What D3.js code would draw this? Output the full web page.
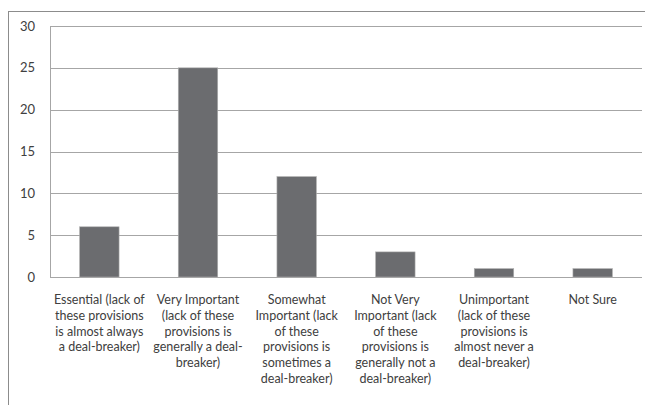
<!DOCTYPE html>
<html>
<head>
<meta charset="utf-8">
<script src="https://cdn.jsdelivr.net/npm/d3@7"></script>
<style>
  body { margin: 0; background: #fff; }
  svg { display: block; }
  text { font-family: Lato, "Open Sans", sans-serif; fill: #404040; }
</style>
</head>
<body>
<svg id="canvas" width="645" height="405"></svg>
<script>
// chart data
let categories = [
    ['Essential (lack of', 'these provisions', 'is almost  always', 'a deal-breaker)'],
    ['Very Important', '(lack of these', 'provisions is', 'generally a deal-', 'breaker)'],
    ['Somewhat', 'Important (lack', 'of these', 'provisions is', 'sometimes  a', 'deal-breaker)'],
    ['Not Very', 'Important (lack', 'of these', 'provisions is', 'generally not a', 'deal-breaker)'],
    ['Unimportant', '(lack of these', 'provisions is', 'almost  never a', 'deal-breaker)'],
    ['Not Sure']
]
let counts = [6, 25, 12, 3, 1, 1]
let yTicks = [0, 5, 10, 15, 20, 25, 30]

let canvas = d3.select('#canvas')

// outer chart frame (cut off on right/bottom like the picture)
canvas.append('rect')
    .attr('x', 8.5).attr('y', 11.5)
    .attr('width', 700).attr('height', 500)
    .attr('fill', 'none')
    .attr('stroke', '#8c8c8c')

let plotLeft = 50, plotRight = 642, plotTop = 26, plotBottom = 277

let xScale = d3.scaleBand()
    .domain(d3.range(categories.length))
    .range([plotLeft, plotRight])
    .paddingInner(0.6)
    .paddingOuter(0.3)

let yScale = d3.scaleLinear()
    .domain([0, 30])
    .range([plotBottom, plotTop])

// gridlines
canvas.append('g')
    .selectAll('line')
    .data(yTicks)
    .enter()
    .append('line')
    .attr('x1', plotLeft)
    .attr('x2', plotRight)
    .attr('y1', (t) => Math.round(yScale(t)) + 0.5)
    .attr('y2', (t) => Math.round(yScale(t)) + 0.5)
    .attr('stroke', '#a6a6a6')

// left axis line
canvas.append('line')
    .attr('x1', plotLeft + 0.5).attr('x2', plotLeft + 0.5)
    .attr('y1', plotTop).attr('y2', plotBottom)
    .attr('stroke', '#a6a6a6')

// tick labels
canvas.append('g')
    .selectAll('text')
    .data(yTicks)
    .enter()
    .append('text')
    .attr('x', 35)
    .attr('y', (t) => yScale(t) + 4.5)
    .attr('text-anchor', 'end')
    .style('font-size', '13px')
    .text((t) => t)

// bars
canvas.append('g')
    .selectAll('rect')
    .data(counts)
    .enter()
    .append('rect')
    .attr('x', (d, i) => xScale(i))
    .attr('y', (d) => yScale(d))
    .attr('width', xScale.bandwidth())
    .attr('height', (d) => yScale(0) - yScale(d))
    .attr('fill', '#6b6c6f')
    .attr('stroke', '#b0b0b0')
    .attr('stroke-width', 0.6)

// category labels
let labels = canvas.append('g')
    .selectAll('text')
    .data(categories)
    .enter()
    .append('text')
    .attr('text-anchor', 'middle')
    .style('font-size', '12.5px')
    .attr('transform', (c, i) => 'translate(' + (xScale(i) + xScale.bandwidth() / 2) + ', 304)')

labels.selectAll('tspan')
    .data((c) => c)
    .enter()
    .append('tspan')
    .attr('x', 0)
    .attr('y', (l, j) => j * 15.8)
    .text((l) => l)
</script>
</body>
</html>
